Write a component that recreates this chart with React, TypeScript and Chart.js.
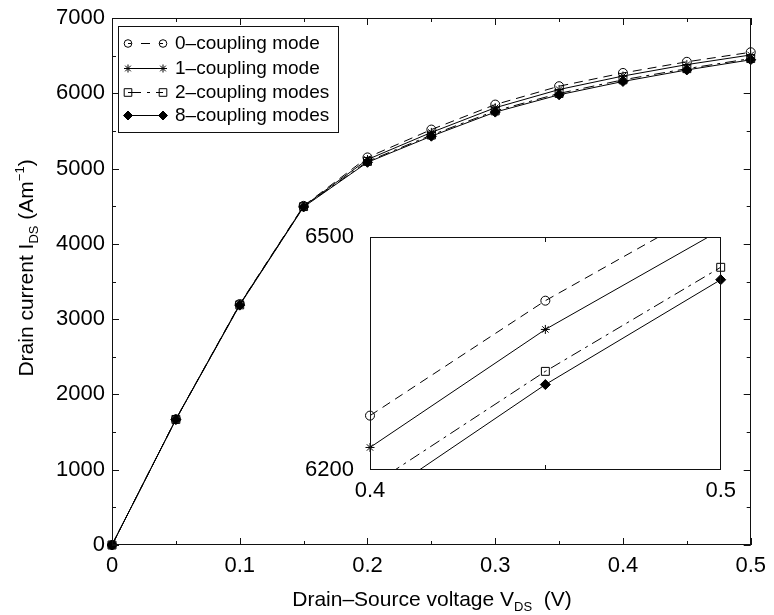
import React, { useEffect, useRef } from 'react';
import { Chart, registerables } from 'chart.js';

Chart.register(...registerables);

// ---- data ----
const voltageV = [0, 0.05, 0.1, 0.15, 0.2, 0.25, 0.3, 0.35, 0.4, 0.45, 0.5];
const mode0 = [0, 1670, 3200, 4505, 5148, 5518, 5850, 6094, 6270, 6418, 6545];
const mode1 = [0, 1670, 3196, 4500, 5120, 5480, 5808, 6050, 6229, 6381, 6509];
const mode2 = [0, 1668, 3190, 4495, 5095, 5445, 5766, 5998, 6179, 6327, 6461];
const mode8 = [0, 1666, 3186, 4490, 5083, 5430, 5750, 5980, 6157, 6310, 6445];
const seriesLabels = ['0–coupling mode', '1–coupling mode', '2–coupling modes', '8–coupling modes'];
const xTickLabels = ['0', '0.1', '0.2', '0.3', '0.4', '0.5'];
const yTickLabels = ['0', '1000', '2000', '3000', '4000', '5000', '6000', '7000'];
const insetXTickLabels = ['0.4', '0.5'];
const insetYTickLabels = ['6200', '6500'];
const insetStartIndex = 8;

// ---- styles ----
const FONT = '"Liberation Sans", Arial, Helvetica, sans-serif';
const TICK_SIZE = 22;
const seriesStyles = [
  { dash: [9, 6], point: 'circle', radius: 4.5, fill: false, legendDash: [9, 9.5], legendOffset: 5.5 },
  { dash: [], point: 'star', radius: 4.5, fill: false, legendDash: [], legendOffset: 0 },
  { dash: [11, 5, 3, 5], point: 'rect', radius: 5.6, fill: false, legendDash: [13, 6, 3, 6], legendOffset: 0 },
  { dash: [], point: 'rectRot', radius: 5, fill: true, legendDash: [], legendOffset: 0 },
];
const allSeries = [mode0, mode1, mode2, mode8];

function buildDatasets(start: number, clip: any) {
  return allSeries.map((vals, k) => {
    const st = seriesStyles[k];
    return {
      label: seriesLabels[k],
      data: voltageV.slice(start).map((v, i) => ({ x: v, y: vals[start + i] })),
      borderColor: '#000',
      borderWidth: 1,
      borderDash: st.dash,
      pointStyle: st.point,
      pointRadius: st.radius,
      pointBorderWidth: 1,
      pointBorderColor: '#000',
      pointBackgroundColor: st.fill ? '#000' : 'rgba(0,0,0,0)',
      tension: 0,
      fill: false,
      clip,
    };
  });
}

function drawMarker(ctx: CanvasRenderingContext2D, style: string, x: number, y: number, r: number) {
  ctx.save();
  ctx.setLineDash([]);
  ctx.lineWidth = 1;
  ctx.strokeStyle = '#000';
  ctx.fillStyle = '#000';
  ctx.beginPath();
  if (style === 'circle') {
    ctx.arc(x, y, r, 0, Math.PI * 2);
    ctx.stroke();
  } else if (style === 'star') {
    for (let a = 0; a < 4; a++) {
      const ang = (a * Math.PI) / 4;
      ctx.moveTo(x - r * Math.cos(ang), y - r * Math.sin(ang));
      ctx.lineTo(x + r * Math.cos(ang), y + r * Math.sin(ang));
    }
    ctx.stroke();
  } else if (style === 'rect') {
    ctx.rect(x - r, y - r, 2 * r, 2 * r);
    ctx.stroke();
  } else {
    ctx.moveTo(x, y - r);
    ctx.lineTo(x + r, y);
    ctx.lineTo(x, y + r);
    ctx.lineTo(x - r, y);
    ctx.closePath();
    ctx.fill();
    ctx.stroke();
  }
  ctx.restore();
}

function drawRich(ctx: CanvasRenderingContext2D, parts: { text: string; size: number; dy: number }[], x: number, y: number, rotate: boolean) {
  ctx.save();
  ctx.translate(x, y);
  if (rotate) ctx.rotate(-Math.PI / 2);
  const widths = parts.map((p) => {
    ctx.font = `${p.size}px ${FONT}`;
    return ctx.measureText(p.text).width;
  });
  const total = widths.reduce((a, b) => a + b, 0);
  let cx = -total / 2;
  ctx.fillStyle = '#000';
  ctx.textBaseline = 'alphabetic';
  ctx.textAlign = 'left';
  parts.forEach((p, i) => {
    ctx.font = `${p.size}px ${FONT}`;
    ctx.fillText(p.text, cx, p.dy);
    cx += widths[i];
  });
  ctx.restore();
}

const mainFrame = {
  id: 'mainFrame',
  afterDatasetsDraw(chart: any) {
    const { ctx, chartArea: a, scales } = chart;
    const x = scales.x;
    const y = scales.y;
    ctx.save();
    ctx.strokeStyle = '#111';
    ctx.lineWidth = 1;
    ctx.setLineDash([]);
    ctx.beginPath();
    for (let i = 0; i <= 10; i++) {
      const v = i * 0.05;
      const px = Math.round(x.getPixelForValue(v)) + 0.5;
      const L = i % 2 === 0 ? 7 : 4;
      ctx.moveTo(px, a.bottom);
      ctx.lineTo(px, a.bottom - L);
      ctx.moveTo(px, a.top);
      ctx.lineTo(px, a.top + L);
    }
    for (let i = 0; i <= 14; i++) {
      const v = i * 500;
      const py = Math.round(y.getPixelForValue(v)) + 0.5;
      const L = i % 2 === 0 ? 7 : 4;
      ctx.moveTo(a.left, py);
      ctx.lineTo(a.left + L, py);
      ctx.moveTo(a.right, py);
      ctx.lineTo(a.right - L, py);
    }
    ctx.stroke();
    ctx.strokeRect(Math.round(a.left) + 0.5, Math.round(a.top) + 0.5, Math.round(a.width) - 1, Math.round(a.height) - 1);
    ctx.restore();
  },
  afterDraw(chart: any) {
    const ctx: CanvasRenderingContext2D = chart.ctx;
    // axis titles
    drawRich(ctx, [
      { text: 'Drain–Source voltage V', size: 21, dy: 0 },
      { text: 'DS', size: 13, dy: 5 },
      { text: '  (V)', size: 21, dy: 0 },
    ], 432, 606, false);
    drawRich(ctx, [
      { text: 'Drain current I', size: 21, dy: 0 },
      { text: 'DS', size: 13, dy: 5 },
      { text: ' (Am', size: 21, dy: 0 },
      { text: '−1', size: 13, dy: -9 },
      { text: ')', size: 21, dy: 0 },
    ], 33, 268, true);

    // legend
    ctx.save();
    const bx = 118.5, by = 26.5, bw = 220, bh = 106;
    ctx.fillStyle = '#fff';
    ctx.fillRect(bx, by, bw, bh);
    ctx.strokeStyle = '#111';
    ctx.lineWidth = 1;
    ctx.strokeRect(bx, by, bw, bh);
    const rowY = [43, 68, 92, 115];
    const x0 = 128, x1 = 163;
    seriesLabels.forEach((lab, k) => {
      const st = seriesStyles[k];
      const yy = rowY[k] + 0.5;
      ctx.save();
      ctx.strokeStyle = '#000';
      ctx.lineWidth = 1;
      ctx.setLineDash(st.legendDash);
      ctx.lineDashOffset = st.legendOffset;
      ctx.beginPath();
      ctx.moveTo(x0, yy);
      ctx.lineTo(x1, yy);
      ctx.stroke();
      ctx.restore();
      const r = st.point === 'circle' ? 3.8 : st.point === 'rect' ? 3.8 : st.point === 'star' ? 4 : 4.5;
      drawMarker(ctx, st.point, x0, yy, r);
      drawMarker(ctx, st.point, x1, yy, r);
      ctx.fillStyle = '#000';
      ctx.font = `19px ${FONT}`;
      ctx.textBaseline = 'middle';
      ctx.textAlign = 'left';
      ctx.fillText(lab, 175, rowY[k] + 1);
    });
    ctx.restore();
  },
};

const insetFrame = {
  id: 'insetFrame',
  beforeDatasetsDraw(chart: any) {
    const { ctx, chartArea: a } = chart;
    ctx.save();
    ctx.fillStyle = '#fff';
    ctx.fillRect(a.left, a.top, a.width, a.height);
    ctx.restore();
  },
  afterDatasetsDraw(chart: any) {
    const { ctx, chartArea: a, scales } = chart;
    ctx.save();
    ctx.strokeStyle = '#111';
    ctx.lineWidth = 1;
    ctx.setLineDash([]);
    const px = Math.round(scales.x.getPixelForValue(0.45)) + 0.5;
    ctx.beginPath();
    ctx.moveTo(px, a.top);
    ctx.lineTo(px, a.top + 5);
    ctx.moveTo(px, a.bottom);
    ctx.lineTo(px, a.bottom - 5);
    ctx.stroke();
    ctx.strokeRect(Math.round(a.left) + 0.5, Math.round(a.top) + 0.5, Math.round(a.width) - 1, Math.round(a.height) - 1);
    ctx.restore();
  },
};

function axisOpts(min: number, max: number, labels: string[], size: number, padding: number, lineHeight: number, fit: (s: any) => void) {
  const values = labels.map(Number);
  return {
    type: 'linear',
    min,
    max,
    afterBuildTicks: (s: any) => {
      s.ticks = values.map((v) => ({ value: v }));
    },
    ticks: {
      callback: (_v: any, i: number) => labels[i],
      color: '#000',
      font: { size, family: FONT, lineHeight },
      padding,
      maxRotation: 0,
      autoSkip: false,
    },
    grid: { display: false, drawTicks: false },
    border: { display: false },
    afterFit: fit,
  };
}

export default function App() {
  const mainRef = useRef<HTMLCanvasElement>(null);
  const insetRef = useRef<HTMLCanvasElement>(null);

  useEffect(() => {
    const main = new Chart(mainRef.current as HTMLCanvasElement, {
      type: 'line',
      data: { datasets: buildDatasets(0, false) as any },
      options: {
        responsive: false,
        animation: false,
        events: [],
        layout: { padding: { left: 0, right: 17, top: 12, bottom: 0 } },
        plugins: { legend: { display: false }, tooltip: { enabled: false } },
        scales: {
          x: axisOpts(0, 0.5, xTickLabels, TICK_SIZE, 8, 1.2, (s: any) => { s.height = 70; }) as any,
          y: axisOpts(0, 7000, yTickLabels, TICK_SIZE, 7, 1, (s: any) => { s.width = 112; }) as any,
        },
      },
      plugins: [mainFrame],
    });
    const inset = new Chart(insetRef.current as HTMLCanvasElement, {
      type: 'line',
      data: { datasets: buildDatasets(insetStartIndex, { left: 8, right: 8, top: 0, bottom: 0 }) as any },
      options: {
        responsive: false,
        animation: false,
        events: [],
        layout: { padding: { left: 0, right: 15, top: 16, bottom: 0 } },
        plugins: { legend: { display: false }, tooltip: { enabled: false } },
        scales: {
          x: axisOpts(0.4, 0.5, insetXTickLabels, TICK_SIZE, 8, 1.2, (s: any) => { s.height = 40; }) as any,
          y: axisOpts(6200, 6500, insetYTickLabels, TICK_SIZE, 16, 1, (s: any) => { s.width = 80; }) as any,
        },
      },
      plugins: [insetFrame],
    });
    return () => {
      main.destroy();
      inset.destroy();
    };
  }, []);

  return (
    <div style={{ position: 'absolute', left: 0, top: 0, width: 774, height: 615, background: '#fff' }}>
      <canvas ref={mainRef} width={774} height={615} style={{ position: 'absolute', left: 0, top: 0, width: 774, height: 615 }} />
      <canvas ref={insetRef} width={454} height={300} style={{ position: 'absolute', left: 290, top: 210, width: 454, height: 300 }} />
    </div>
  );
}
